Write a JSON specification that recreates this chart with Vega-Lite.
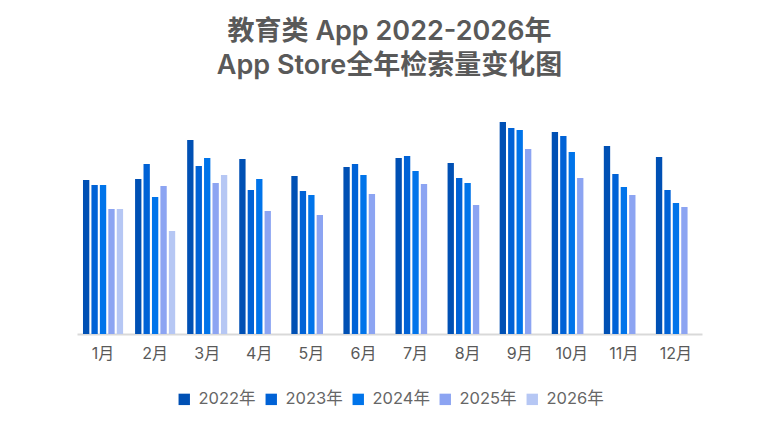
{
  "$schema": "https://vega.github.io/schema/vega-lite/v6.json",
  "width": 625,
  "height": 234,
  "autosize": {"type": "none"},
  "padding": {"left": 77, "top": 100, "right": 78, "bottom": 98},
  "background": "white",
  "view": {"stroke": null},
  "title": {
    "text": ["教育类 App 2022-2026年", "App Store全年检索量变化图"],
    "anchor": "middle",
    "fontSize": 27,
    "fontWeight": 600,
    "lineHeight": 34,
    "color": "#595959",
    "font": "Inter, Noto Sans CJK SC",
    "offset": 20
  },
  "data": {
    "values": [
      {"month": "1月", "year": "2022年", "value": 154},
      {"month": "1月", "year": "2023年", "value": 149},
      {"month": "1月", "year": "2024年", "value": 149},
      {"month": "1月", "year": "2025年", "value": 125},
      {"month": "1月", "year": "2026年", "value": 125},
      {"month": "2月", "year": "2022年", "value": 155},
      {"month": "2月", "year": "2023年", "value": 170},
      {"month": "2月", "year": "2024年", "value": 137},
      {"month": "2月", "year": "2025年", "value": 148},
      {"month": "2月", "year": "2026年", "value": 103},
      {"month": "3月", "year": "2022年", "value": 194},
      {"month": "3月", "year": "2023年", "value": 168},
      {"month": "3月", "year": "2024年", "value": 176},
      {"month": "3月", "year": "2025年", "value": 151},
      {"month": "3月", "year": "2026年", "value": 159},
      {"month": "4月", "year": "2022年", "value": 175},
      {"month": "4月", "year": "2023年", "value": 144},
      {"month": "4月", "year": "2024年", "value": 155},
      {"month": "4月", "year": "2025年", "value": 123},
      {"month": "5月", "year": "2022年", "value": 158},
      {"month": "5月", "year": "2023年", "value": 143},
      {"month": "5月", "year": "2024年", "value": 139},
      {"month": "5月", "year": "2025年", "value": 119},
      {"month": "6月", "year": "2022年", "value": 167},
      {"month": "6月", "year": "2023年", "value": 170},
      {"month": "6月", "year": "2024年", "value": 159},
      {"month": "6月", "year": "2025年", "value": 140},
      {"month": "7月", "year": "2022年", "value": 176},
      {"month": "7月", "year": "2023年", "value": 178},
      {"month": "7月", "year": "2024年", "value": 163},
      {"month": "7月", "year": "2025年", "value": 150},
      {"month": "8月", "year": "2022年", "value": 171},
      {"month": "8月", "year": "2023年", "value": 156},
      {"month": "8月", "year": "2024年", "value": 151},
      {"month": "8月", "year": "2025年", "value": 129},
      {"month": "9月", "year": "2022年", "value": 212},
      {"month": "9月", "year": "2023年", "value": 206},
      {"month": "9月", "year": "2024年", "value": 204},
      {"month": "9月", "year": "2025年", "value": 185},
      {"month": "10月", "year": "2022年", "value": 202},
      {"month": "10月", "year": "2023年", "value": 198},
      {"month": "10月", "year": "2024年", "value": 182},
      {"month": "10月", "year": "2025年", "value": 156},
      {"month": "11月", "year": "2022年", "value": 188},
      {"month": "11月", "year": "2023年", "value": 160},
      {"month": "11月", "year": "2024年", "value": 147},
      {"month": "11月", "year": "2025年", "value": 139},
      {"month": "12月", "year": "2022年", "value": 177},
      {"month": "12月", "year": "2023年", "value": 144},
      {"month": "12月", "year": "2024年", "value": 131},
      {"month": "12月", "year": "2025年", "value": 127}
    ]
  },
  "mark": {"type": "bar"},
  "encoding": {
    "x": {
      "field": "month",
      "type": "nominal",
      "sort": null,
      "title": null,
      "scale": {"paddingInner": 0.23, "paddingOuter": 0.115},
      "axis": {
        "labelAngle": 0,
        "ticks": false,
        "domainColor": "#d9d9d9",
        "domainWidth": 2,
        "labelFontSize": 16,
        "labelColor": "#595959",
        "labelPadding": 11,
        "labelFont": "Inter, Noto Sans CJK SC"
      }
    },
    "xOffset": {
      "field": "year",
      "type": "nominal",
      "scale": {"paddingInner": 0.25, "paddingOuter": 0}
    },
    "y": {
      "field": "value",
      "type": "quantitative",
      "scale": {"domain": [0, 234], "nice": false},
      "axis": null
    },
    "color": {
      "field": "year",
      "type": "nominal",
      "title": null,
      "scale": {
        "domain": ["2022年", "2023年", "2024年", "2025年", "2026年"],
        "range": ["#0050b4", "#0062d6", "#0074ea", "#8ca4f2", "#b6c7f4"]
      },
      "legend": {
        "orient": "bottom",
        "direction": "horizontal",
        "symbolType": "square",
        "symbolSize": 130,
        "symbolStrokeWidth": 0,
        "labelFontSize": 16.5,
        "labelColor": "#666666",
        "labelFont": "Inter, Noto Sans CJK SC",
        "labelOffset": 6,
        "columnPadding": 7,
        "offset": 30
      }
    }
  },
  "config": {
    "legend": {"layout": {"bottom": {"anchor": "middle"}}}
  }
}
